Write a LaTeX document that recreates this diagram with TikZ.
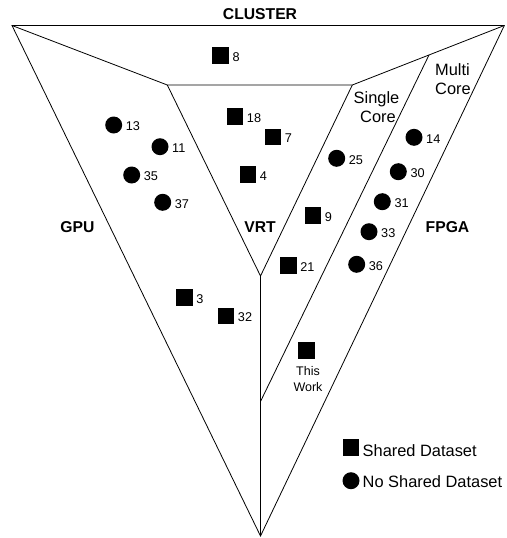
\documentclass[tikz,border=0pt]{standalone}
\usepackage{fontspec}
\setmainfont{Liberation Sans}
\begin{document}
\begin{tikzpicture}[x=1pt,y=-1pt,
  edge/.style={line width=0.8pt},
  sq/.style={rectangle, fill=black, minimum size=16.5pt, inner sep=0pt, outer sep=0pt},
  dot/.style={circle, fill=black, minimum size=17pt, inner sep=0pt, outer sep=0pt},
  num/.style={anchor=west, inner sep=0pt, font=\fontsize{12.7}{15}\selectfont, xshift=3.5pt, yshift=-1.5pt},
  head/.style={font=\bfseries\fontsize{15.7}{18}\selectfont, inner sep=0pt},
  txt/.style={font=\fontsize{16.4}{19}\selectfont, inner sep=0pt, anchor=base},
  small/.style={font=\fontsize{12.5}{15}\selectfont, inner sep=0pt, anchor=base},
  legend/.style={font=\fontsize{16.4}{19}\selectfont, inner sep=0pt, anchor=base west},
]
\useasboundingbox (0,0) rectangle (506,538);

% corner points of the triangles
\coordinate (OL) at (12,25.5);
\coordinate (OR) at (504.3,25.5);
\coordinate (OB) at (260.5,536);
\coordinate (IL) at (167.3,85);
\coordinate (IR) at (352.3,85);
\coordinate (IB) at (260.5,276);
\coordinate (DT) at (429,55);
\coordinate (DB) at (260.5,401.5);

% outer triangle, inner triangle and the dividing lines
\draw[edge] (OL) -- (OR) -- (OB) -- cycle;
\draw[edge] (OL) -- (IL) -- (IR) -- (OR);
\draw[edge] (IL) -- (IB) -- (IR);
\draw[edge] (IB) -- (OB);
\draw[edge] (DT) -- (DB);

% region titles
\node[head] (cluster) at (260,14.5) {CLUSTER};
\node[head] (gpu) at (77.5,226.7) {GPU};
\node[head] (vrt) at (260,226.7) {VRT};
\node[head] (fpga) at (447.5,226.7) {FPGA};
\node[txt] (single1) at (376.5,103) {Single};
\node[txt] (single2) at (378,122.5) {Core};
\node[txt] (multi1) at (452.5,75) {Multi};
\node[txt] (multi2) at (453,94) {Core};

% works using a shared dataset
\node[sq] (s8) at (220.7,55.7) {};   \node[num] (n8) at (s8.east) {8};
\node[sq] (s18) at (235,116.7) {};   \node[num] (n18) at (s18.east) {18};
\node[sq] (s7) at (273,137) {};      \node[num] (n7) at (s7.east) {7};
\node[sq] (s4) at (248,174.5) {};    \node[num] (n4) at (s4.east) {4};
\node[sq] (s9) at (313,215.7) {};    \node[num] (n9) at (s9.east) {9};
\node[sq] (s21) at (288.3,265.7) {}; \node[num] (n21) at (s21.east) {21};
\node[sq] (s3) at (184.3,297.3) {};  \node[num] (n3) at (s3.east) {3};
\node[sq] (s32) at (226,316) {};     \node[num] (n32) at (s32.east) {32};
\node[sq] (stw) at (306.3,350.3) {};
\node[small] (tw1) at (308,375.5) {This};
\node[small] (tw2) at (308,391) {Work};

% works without a shared dataset
\node[dot] (c13) at (113.7,125) {};   \node[num] (n13) at (c13.east) {13};
\node[dot] (c11) at (160,146.7) {};   \node[num] (n11) at (c11.east) {11};
\node[dot] (c35) at (131.7,175) {};   \node[num] (n35) at (c35.east) {35};
\node[dot] (c37) at (162.7,202.3) {}; \node[num] (n37) at (c37.east) {37};
\node[dot] (c25) at (336.7,158.3) {}; \node[num] (n25) at (c25.east) {25};
\node[dot] (c14) at (414,137.3) {};   \node[num] (n14) at (c14.east) {14};
\node[dot] (c30) at (398.3,171.7) {}; \node[num] (n30) at (c30.east) {30};
\node[dot] (c31) at (382.3,201.7) {}; \node[num] (n31) at (c31.east) {31};
\node[dot] (c33) at (369,231.7) {};   \node[num] (n33) at (c33.east) {33};
\node[dot] (c36) at (356.7,264.3) {}; \node[num] (n36) at (c36.east) {36};

% legend
\node[sq] (legsq) at (351,447.7) {};
\node[legend] (legsqt) at (362.5,456.5) {Shared Dataset};
\node[dot] (legdot) at (351,480.7) {};
\node[legend] (legdott) at (362.5,487.3) {No Shared Dataset};
\end{tikzpicture}
\end{document}
